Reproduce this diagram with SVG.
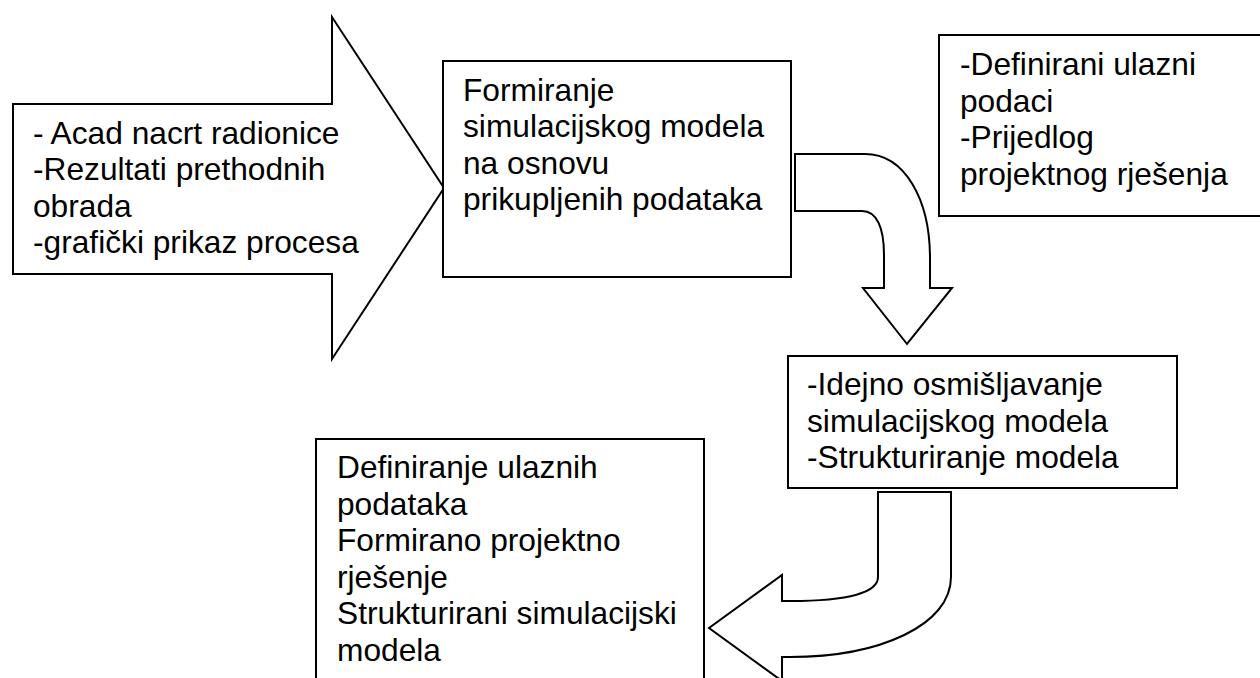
<svg xmlns="http://www.w3.org/2000/svg" width="1260" height="678" viewBox="0 0 1260 678">
<style>
.shape{fill:#fff;stroke:#000;stroke-width:2;stroke-linejoin:miter}
.t{font-family:"Liberation Sans",Arial,sans-serif;font-size:31.7px;fill:#000}
</style>
<rect x="0" y="0" width="1260" height="678" fill="#fff"/>
<g id="node-input">
<path class="shape" d="M13,104 H332 V17 L444,188 L332,359 V274 H13 Z"/>
<text class="t"><tspan x="33" y="144">- Acad nacrt radionice</tspan><tspan x="33" y="180.3">-Rezultati prethodnih</tspan><tspan x="33" y="216.6">obrada</tspan><tspan x="33" y="252.9">-grafički prikaz procesa</tspan></text>
</g>
<g id="node-formiranje">
<rect class="shape" x="443" y="61" width="348" height="216"/>
<text class="t"><tspan x="463" y="101">Formiranje</tspan><tspan x="463" y="137.3">simulacijskog modela</tspan><tspan x="463" y="173.6">na osnovu</tspan><tspan x="463" y="209.9">prikupljenih podataka</tspan></text>
</g>
<g id="node-definirani">
<rect class="shape" x="939" y="35" width="330" height="181"/>
<text class="t"><tspan x="960" y="75">-Definirani ulazni</tspan><tspan x="960" y="111.7">podaci</tspan><tspan x="960" y="148.4">-Prijedlog</tspan><tspan x="960" y="185.1">projektnog rješenja</tspan></text>
</g>
<g id="node-idejno">
<rect class="shape" x="788" y="356" width="389" height="132"/>
<text class="t"><tspan x="807" y="395">-Idejno osmišljavanje</tspan><tspan x="807" y="431.5">simulacijskog modela</tspan><tspan x="807" y="468">-Strukturiranje modela</tspan></text>
</g>
<g id="node-output">
<rect class="shape" x="316" y="439" width="388" height="260"/>
<text class="t"><tspan x="337" y="478">Definiranje ulaznih</tspan><tspan x="337" y="514.6">podataka</tspan><tspan x="337" y="551.2">Formirano projektno</tspan><tspan x="337" y="587.8">rješenje</tspan><tspan x="337" y="624.4">Strukturirani simulacijski</tspan><tspan x="337" y="661">modela</tspan></text>
</g>
<g id="connectors">
<path class="shape" d="M795,154 H865 C905,154 930,200 930,258 V288 H952 L907,344 L863,288 H884 V255 C884,228 877,211 862,211 H795 Z"/>
<path class="shape" d="M878,492 V577 C878,592 850,601 790,601 H782 V575 L709,628 L782,681 V657 H790 C880,657 951,625 951,577 V492 Z"/>
</g>
</svg>
